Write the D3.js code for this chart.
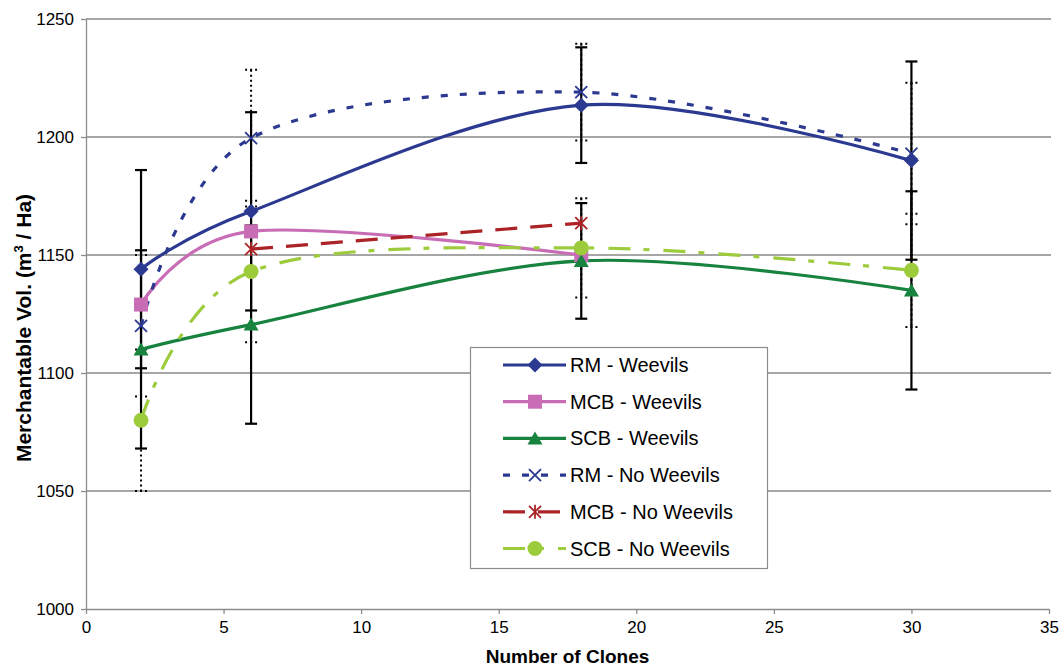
<!DOCTYPE html>
<html>
<head>
<meta charset="utf-8">
<script src="https://cdn.jsdelivr.net/npm/d3@7.9.0/dist/d3.min.js"></script>
<style>
  body { margin: 0; background: #fff; }
  svg { font-family: "Liberation Sans", Arial, sans-serif; }
</style>
</head>
<body>
<svg id="chart" width="1061" height="666"></svg>
<script>
const clones = [2, 6, 18, 30];

const rmWeevils = [1144, 1168.5, 1213.5, 1190];
const mcbWeevils = [1129, 1160, 1150];
const scbWeevils = [1110, 1120.5, 1147.5, 1135];
const rmNoWeevils = [1120, 1199.5, 1219, 1193];
const mcbNoWeevils = [null, 1152.5, 1163.5];
const scbNoWeevils = [1080, 1143, 1153, 1143.5];

// +/- error per clone count
const rmWeevilsErr = [42, 42, 24.5, 42];
const scbWeevilsErr = [42, 42, 24.5, 42];
const rmNoWeevilsErr = [30, 29, 20.5, 30];
const scbNoWeevilsErr = [30, 30, 21, 24];

const yTicks = [1000, 1050, 1100, 1150, 1200, 1250];
const xTicks = [0, 5, 10, 15, 20, 25, 30, 35];

const series = [
  { name: "RM - Weevils", values: rmWeevils, color: "#2b3990", dash: null, marker: "diamond" },
  { name: "MCB - Weevils", values: mcbWeevils, color: "#c86db5", dash: null, marker: "square" },
  { name: "SCB - Weevils", values: scbWeevils, color: "#17833f", dash: null, marker: "triangle" },
  { name: "RM - No Weevils", values: rmNoWeevils, color: "#2b3990", dash: "7 12", marker: "x" },
  { name: "MCB - No Weevils", values: mcbNoWeevils, color: "#ab2327", dash: "22 13", marker: "star" },
  { name: "SCB - No Weevils", values: scbNoWeevils, color: "#9ccb3b", dash: "22 13 6 14", marker: "circle" }
];

const errSets = [
  { values: rmNoWeevils, err: rmNoWeevilsErr, dotted: true },
  { values: scbNoWeevils, err: scbNoWeevilsErr, dotted: true },
  { values: rmWeevils, err: rmWeevilsErr, dotted: false },
  { values: scbWeevils, err: scbWeevilsErr, dotted: false }
];

const svg = d3.select("#chart");
const plotLeft = 86, plotRight = 1049, plotTop = 19, plotBottom = 609;

const x = d3.scaleLinear().domain([0, 35]).range([plotLeft, plotRight]);
const y = d3.scaleLinear().domain([1000, 1250]).range([plotBottom, plotTop]);

// gridlines
svg.append("g")
  .selectAll("line")
  .data(yTicks.slice(1))
  .join("line")
  .attr("x1", plotLeft).attr("x2", plotRight + 2)
  .attr("y1", d => y(d)).attr("y2", d => y(d))
  .attr("stroke", "#a6a6a6")
  .attr("stroke-width", 2);

// axes
const yAxis = svg.append("g")
  .attr("transform", `translate(${plotLeft},0)`)
  .call(d3.axisLeft(y).tickValues(yTicks).tickFormat(d3.format("d")).tickSize(5).tickSizeOuter(0).tickPadding(7));
const xAxis = svg.append("g")
  .attr("transform", `translate(0,${plotBottom})`)
  .call(d3.axisBottom(x).tickValues(xTicks).tickFormat(d3.format("d")).tickSize(5).tickSizeOuter(0).tickPadding(7));

[yAxis, xAxis].forEach(a => {
  a.select(".domain").attr("stroke", "#8c8c8c").attr("stroke-width", 1.3);
  a.selectAll(".tick line").attr("stroke", "#8c8c8c").attr("stroke-width", 1.3);
  a.selectAll(".tick text").attr("fill", "#000").style("font-size", "17px")
    .style("font-family", "'Liberation Sans', Arial, sans-serif");
});

// axis titles
svg.append("text")
  .attr("x", (plotLeft + plotRight) / 2)
  .attr("y", 663)
  .attr("text-anchor", "middle")
  .style("font-size", "19px")
  .style("font-weight", "bold")
  .text("Number of Clones");

const yTitle = svg.append("text")
  .attr("transform", "translate(31,328) rotate(-90)")
  .attr("text-anchor", "middle")
  .style("font-size", "21px")
  .style("font-weight", "bold");
yTitle.append("tspan").text("Merchantable Vol. (m");
yTitle.append("tspan").attr("dy", -8).style("font-size", "13px").text("3");
yTitle.append("tspan").attr("dy", 8).text(" / Ha)");

// error bars
errSets.forEach(s => {
  const g = svg.append("g")
    .attr("stroke", "#000")
    .attr("stroke-width", s.dotted ? 2 : 2.2)
    .attr("stroke-dasharray", s.dotted ? "2 3" : null);
  clones.forEach((c, i) => {
    const v = s.values[i];
    if (v == null) return;
    const lo = v - s.err[i], hi = v + s.err[i];
    g.append("line").attr("x1", x(c)).attr("x2", x(c)).attr("y1", y(hi)).attr("y2", y(lo));
    [hi, lo].forEach(e => {
      g.append("line")
        .attr("x1", x(c) - 6).attr("x2", x(c) + 6)
        .attr("y1", y(e)).attr("y2", y(e));
    });
  });
});

const line = d3.line()
  .defined(d => d.v != null)
  .x(d => x(d.c))
  .y(d => y(d.v))
  .curve(d3.curveCatmullRom.alpha(0));

function points(s) {
  return s.values.map((v, i) => ({ c: clones[i], v })).filter(d => d.v != null);
}

function drawMarker(g, type, cx, cy, color) {
  if (type === "diamond") {
    g.append("path").attr("d", `M${cx},${cy - 7.5}L${cx + 7.5},${cy}L${cx},${cy + 7.5}L${cx - 7.5},${cy}Z`).attr("fill", color);
  } else if (type === "square") {
    g.append("rect").attr("x", cx - 7).attr("y", cy - 7).attr("width", 14).attr("height", 14).attr("fill", color);
  } else if (type === "triangle") {
    g.append("path").attr("d", `M${cx},${cy - 7}L${cx + 7.5},${cy + 6}L${cx - 7.5},${cy + 6}Z`).attr("fill", color);
  } else if (type === "circle") {
    g.append("circle").attr("cx", cx).attr("cy", cy).attr("r", 7.5).attr("fill", color);
  } else {
    const p = `M${cx - 6},${cy - 6}L${cx + 6},${cy + 6}M${cx - 6},${cy + 6}L${cx + 6},${cy - 6}` +
      (type === "star" ? `M${cx},${cy - 7}L${cx},${cy + 7}` : "");
    g.append("path").attr("d", p).attr("stroke", color).attr("stroke-width", 1.8).attr("fill", "none");
  }
}

series.forEach(s => {
  svg.append("path")
    .datum(points(s))
    .attr("d", line)
    .attr("fill", "none")
    .attr("stroke", s.color)
    .attr("stroke-width", 3.2)
    .attr("stroke-dasharray", s.dash);
});

series.forEach(s => {
  const g = svg.append("g");
  points(s).forEach(d => drawMarker(g, s.marker, x(d.c), y(d.v), s.color));
});

// legend
const legend = svg.append("g");
legend.append("rect")
  .attr("x", 470.5).attr("y", 347.5)
  .attr("width", 297).attr("height", 221)
  .attr("fill", "#fff")
  .attr("stroke", "#8c8c8c")
  .attr("stroke-width", 1.2);

series.forEach((s, i) => {
  const ly = 365 + i * 36.7;
  legend.append("line")
    .attr("x1", 503).attr("x2", 566)
    .attr("y1", ly).attr("y2", ly)
    .attr("stroke", s.color)
    .attr("stroke-width", 3.2)
    .attr("stroke-dasharray", s.dash);
  drawMarker(legend, s.marker, 535, ly, s.color);
  legend.append("text")
    .attr("x", 570)
    .attr("y", ly + 7)
    .style("font-size", "20px")
    .text(s.name);
});
</script>
</body>
</html>
